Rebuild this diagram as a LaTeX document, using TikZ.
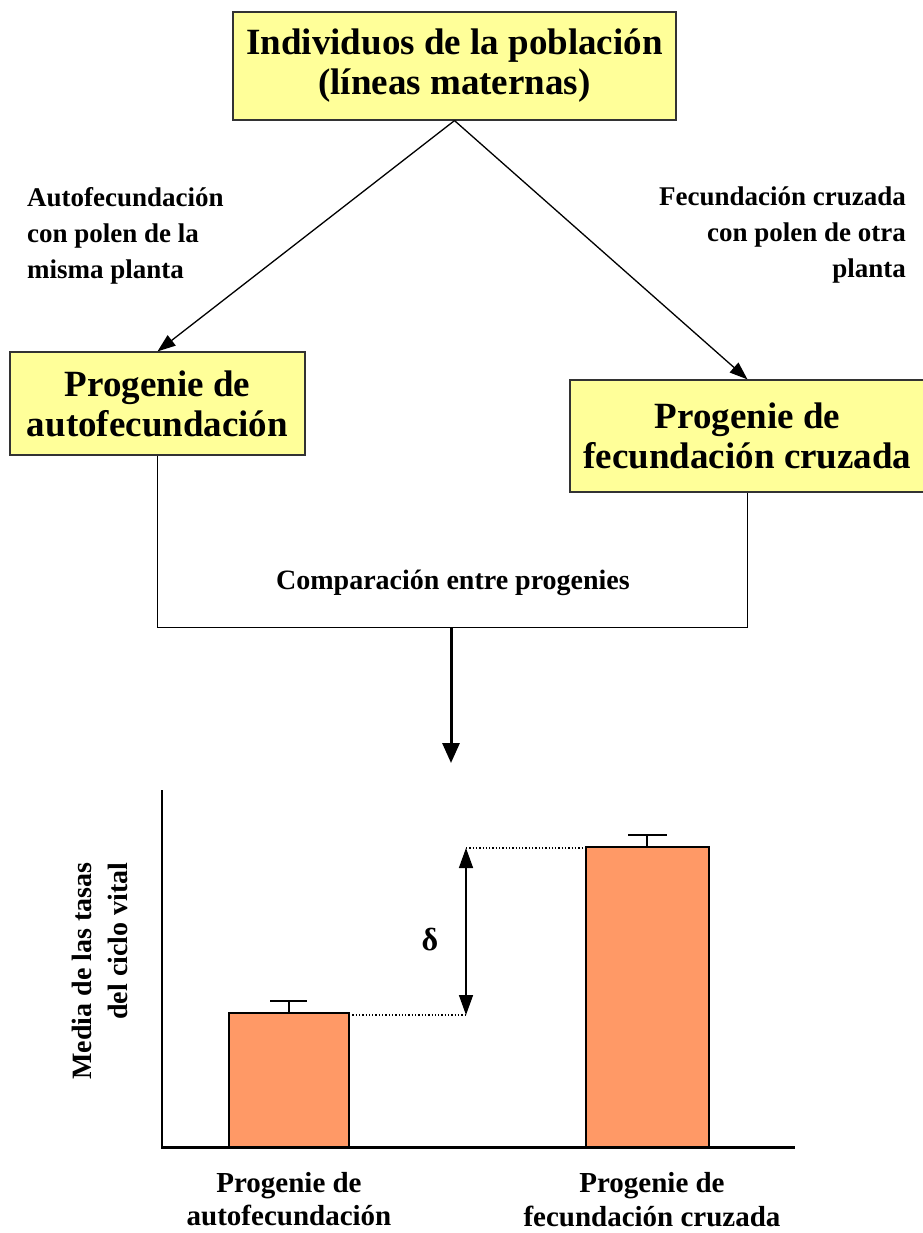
\documentclass[tikz,border=0pt]{standalone}
\usepackage{fontspec}
\setmainfont{Liberation Serif}
\usetikzlibrary{arrows.meta}
\definecolor{boxyellow}{HTML}{FFFF99}
\definecolor{barorange}{HTML}{FF9966}
\tikzset{
  ybox/.style={draw=black!80, line width=1.2pt, fill=boxyellow, align=center, inner sep=0pt,
    font=\bfseries\fontsize{37}{40}\selectfont},
  lbl/.style={inner sep=0pt, font=\bfseries\fontsize{27}{36}\selectfont},
  conn/.style={line width=1.3pt, -{Triangle[length=18pt,width=13pt]}},
  axis/.style={line width=2.6pt},
  bar/.style={draw=black, line width=1.5pt, fill=barorange},
  dotline/.style={line width=1.3pt, dotted},
}
\begin{document}
\begin{tikzpicture}[x=1pt,y=-1pt]
\useasboundingbox (0,0) rectangle (922,1233);
\fill[white] (0,0) rectangle (922,1233);

% boxes
\node[ybox, minimum width=443pt, minimum height=108pt] (top) at (454.5,66) {Individuos de la población\\(líneas maternas)};
\node[ybox, minimum width=295pt, minimum height=103pt] (lbox) at (157.5,403.5) {Progenie de\\autofecundación};
\node[ybox, minimum width=355pt, minimum height=112pt] (rbox) at (747.5,436) {Progenie de\\fecundación cruzada};

% labels of arrows
\node[lbl, anchor=west, align=left] (llab) at (27,236) {Autofecundación\\con polen de la\\misma planta};
\node[lbl, anchor=east, align=right] (rlab) at (906,235) {Fecundación cruzada\\con polen de otra\\planta};

\draw[conn] (top.south) -- (lbox.north);
\draw[conn] (top.south) -- (rbox.north);

% comparison bracket
\coordinate (cmid) at (451,627);
\coordinate (cend) at (451,763);
\draw[line width=1.3pt] (lbox.south) -- ++(0,172) -| (rbox.south);
\node[lbl, font=\bfseries\fontsize{28}{34}\selectfont] (cmp) at (453,583) {Comparación entre progenies};
\draw[line width=3pt, -{Triangle[length=20pt,width=17pt]}] (cmid) -- (cend);

% chart axes
\draw[axis] (162,790) -- (162,1147.5) -- (795,1147.5);

% bars
\draw[bar] (229,1147) rectangle (349,1013);
\draw[bar] (586,1147) rectangle (709,847);
% error bars
\draw[line width=1.5pt] (289,1013) -- (289,1001) (270,1001) -- (307,1001);
\draw[line width=1.5pt] (647,847) -- (647,835) (628,835) -- (667,835);

% dotted guides
\coordinate (lo) at (466,1015);
\coordinate (hi) at (466,848);
\draw[dotline] (349,1015) -- (lo);
\draw[dotline] (hi) -- (586,848);
\draw[line width=1.5pt, {Triangle[length=20pt,width=14pt]}-{Triangle[length=20pt,width=14pt]}] (hi) -- (lo);
\node[lbl, font=\bfseries\fontsize{32}{36}\selectfont] (delta) at (430,940) {δ};

% axis labels
\node[lbl, rotate=90, align=right, font=\bfseries\fontsize{28}{36}\selectfont] (ylab) at (100,971) {Media de las tasas\\del ciclo vital};
\node[lbl, align=center, font=\bfseries\fontsize{29}{33}\selectfont] (xl1) at (289,1199) {Progenie de\\autofecundación};
\node[lbl, align=center, font=\bfseries\fontsize{29}{34}\selectfont] (xl2) at (652,1200) {Progenie de\\fecundación cruzada};
\end{tikzpicture}
\end{document}
